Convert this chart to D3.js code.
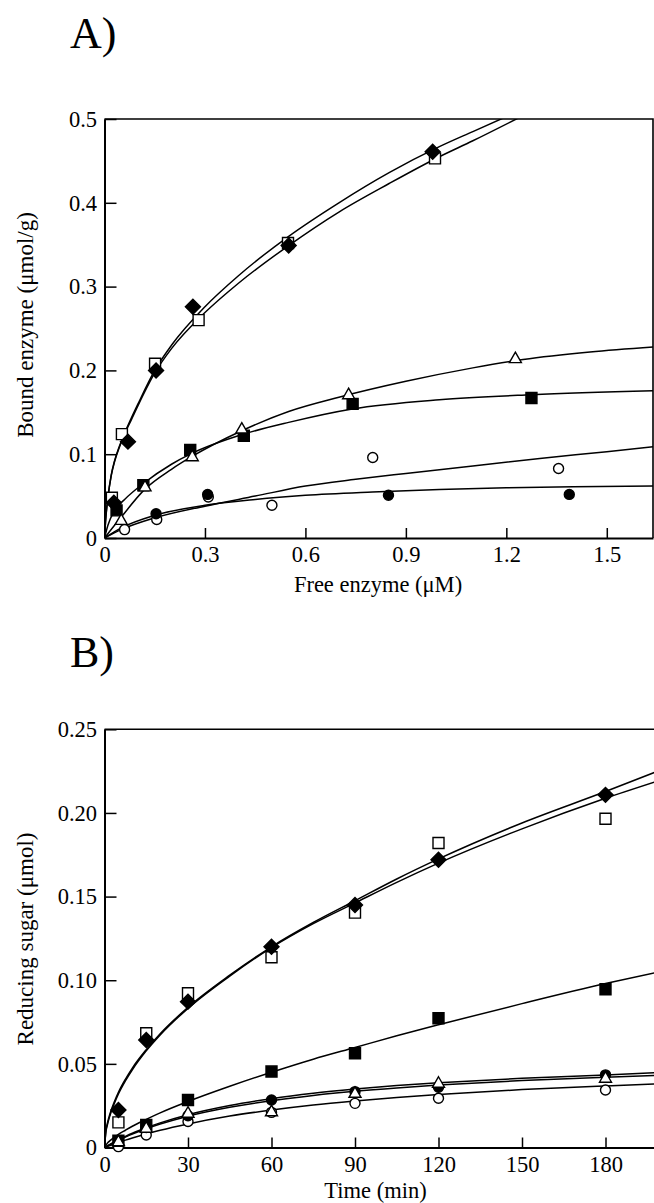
<!DOCTYPE html>
<html>
  <head>
    <meta charset="utf-8">
    <title>Enzyme adsorption and hydrolysis</title>
    <style>
      body { margin: 0; padding: 0; background: #fff; }
      svg { display: block; }
      text { font-family: 'Liberation Serif', 'Times New Roman', serif; fill: #000; }
    </style>
  </head>
  <body>
    <div id="chart"></div>
    <script src="https://cdn.jsdelivr.net/npm/d3@7"></script>
    <script>
      // ---- Panel A: bound vs free enzyme (measured points, [free uM, bound umol/g])
      var aDiamond      = [[0.028, 0.042], [0.07, 0.115], [0.154, 0.2], [0.264, 0.276], [0.55, 0.349], [0.98, 0.461]];
      var aOpenSquare   = [[0.022, 0.048], [0.052, 0.124], [0.151, 0.208], [0.281, 0.26], [0.548, 0.352], [0.987, 0.453]];
      var aTriangle     = [[0.05, 0.021], [0.121, 0.061], [0.262, 0.097], [0.41, 0.13], [0.729, 0.171], [1.227, 0.214]];
      var aFilledSquare = [[0.036, 0.033], [0.116, 0.063], [0.256, 0.105], [0.416, 0.122], [0.741, 0.16], [1.275, 0.167]];
      var aOpenCircle   = [[0.06, 0.01], [0.156, 0.022], [0.31, 0.049], [0.5, 0.039], [0.801, 0.096], [1.356, 0.083]];
      var aFilledCircle = [[0.154, 0.029], [0.308, 0.052], [0.848, 0.051], [1.388, 0.052]];

      // fitted curves
      var aFitDiamond = [[0, 0], [0.004, 0.025], [0.01, 0.048], [0.02, 0.075], [0.03, 0.092], [0.045, 0.11], [0.06, 0.125],
        [0.08, 0.143], [0.1, 0.16], [0.15, 0.2], [0.2, 0.23], [0.3, 0.276], [0.4, 0.313], [0.55, 0.36], [0.7, 0.4],
        [0.85, 0.436], [1.0, 0.467], [1.1, 0.485], [1.19, 0.501]];
      var aFitOpenSquare = [[0, 0], [0.004, 0.024], [0.01, 0.047], [0.02, 0.074], [0.03, 0.091], [0.045, 0.109], [0.06, 0.124],
        [0.08, 0.141], [0.1, 0.158], [0.15, 0.197], [0.2, 0.226], [0.3, 0.269], [0.4, 0.304], [0.55, 0.349], [0.7, 0.389],
        [0.85, 0.423], [1.0, 0.455], [1.1, 0.474], [1.235, 0.501]];
      var aFitTriangle = [[0, 0], [0.05, 0.025], [0.12, 0.058], [0.2, 0.082], [0.26, 0.097], [0.41, 0.128], [0.55, 0.151],
        [0.7, 0.168], [0.9, 0.187], [1.1, 0.203], [1.25, 0.213], [1.45, 0.222], [1.64, 0.228]];
      var aFitFilledSquare = [[0, 0], [0.01, 0.015], [0.03, 0.033], [0.06, 0.046], [0.116, 0.065], [0.2, 0.088], [0.256, 0.1],
        [0.416, 0.124], [0.55, 0.138], [0.74, 0.154], [1.0, 0.165], [1.275, 0.171], [1.64, 0.1758]];
      var aFitOpenCircle = [[0, 0], [0.05, 0.01], [0.15, 0.024], [0.3, 0.038], [0.45, 0.05], [0.6, 0.062], [0.75, 0.07],
        [0.9, 0.077], [1.1, 0.086], [1.3, 0.095], [1.5, 0.103], [1.64, 0.109]];
      var aFitFilledCircle = [[0, 0], [0.05, 0.012], [0.15, 0.027], [0.3, 0.039], [0.45, 0.046], [0.6, 0.051], [0.8, 0.055],
        [1.0, 0.058], [1.2, 0.06], [1.4, 0.0612], [1.64, 0.062]];

      var aXTicks = [0, 0.3, 0.6, 0.9, 1.2, 1.5];
      var aYTicks = [0, 0.1, 0.2, 0.3, 0.4, 0.5];

      // ---- Panel B: reducing sugar vs time
      var bTimes        = [5, 15, 30, 60, 90, 120, 180];
      var bDiamond      = [0.0224, 0.0643, 0.0872, 0.120, 0.145, 0.172, 0.2108];
      var bOpenSquare   = [0.015, 0.0683, 0.0922, 0.1137, 0.1404, 0.182, 0.1965];
      var bFilledSquare = [0.004, 0.0135, 0.0284, 0.0454, 0.0563, 0.0773, 0.0946];
      var bFilledCircle = [0.004, 0.012, 0.019, 0.0284, 0.0334, 0.036, 0.0434];
      var bTriangle     = [0.0035, 0.0115, 0.0205, 0.0214, 0.0324, 0.0384, 0.0414];
      var bOpenCircle   = [0.0005, 0.0075, 0.0155, 0.021, 0.0264, 0.0294, 0.0344];

      var bFitTimes        = [0, 0.5, 1, 2, 3.5, 5, 7.5, 10, 15, 20, 30, 45, 60, 75, 90, 105, 120, 150, 180, 198];
      var bFitDiamond      = [0, 0.0099, 0.0142, 0.0204, 0.0272, 0.033, 0.0408, 0.0475, 0.0585, 0.068, 0.0838, 0.103, 0.12, 0.1345, 0.1475, 0.1605, 0.1725, 0.194, 0.2128, 0.2245];
      var bFitOpenSquare   = [0, 0.0092, 0.0133, 0.0193, 0.0262, 0.032, 0.0398, 0.0465, 0.0578, 0.0673, 0.0832, 0.1025, 0.1195, 0.1338, 0.1462, 0.1585, 0.17, 0.1905, 0.2088, 0.2187];
      var bFitFilledSquare = [0, 0.0015, 0.0025, 0.0041, 0.0061, 0.0078, 0.0103, 0.0127, 0.0168, 0.0207, 0.0275, 0.0366, 0.045, 0.0528, 0.0598, 0.0668, 0.0734, 0.086, 0.098, 0.1045];
      var bFitFilledCircle = [0, 0.0005, 0.001, 0.0019, 0.0033, 0.0046, 0.0066, 0.0085, 0.0118, 0.0147, 0.0196, 0.0251, 0.0292, 0.0324, 0.0349, 0.037, 0.0387, 0.0414, 0.0434, 0.0448];
      var bFitTriangle     = [0, 0.0005, 0.0009, 0.0018, 0.0031, 0.0043, 0.0062, 0.008, 0.0112, 0.014, 0.0187, 0.024, 0.028, 0.0311, 0.0336, 0.0356, 0.0373, 0.04, 0.042, 0.043];
      var bFitOpenCircle   = [0, 0.0003, 0.0006, 0.0012, 0.0021, 0.003, 0.0044, 0.0057, 0.0081, 0.0103, 0.0141, 0.0188, 0.0224, 0.0254, 0.0278, 0.0299, 0.0317, 0.0346, 0.0368, 0.038];

      var bXTicks = [0, 30, 60, 90, 120, 150, 180];
      var bYTicks = [0, 0.05, 0.10, 0.15, 0.20, 0.25];

      var W = 654, H = 1203;
      var svg = d3.select("#chart").append("svg")
        .attr("width", W)
        .attr("height", H);

      // marker shapes
      var shapes = {
        diamond: {d: "M0,-7.5L7.5,0L0,7.5L-7.5,0Z", fill: "#000"},
        openSquare: {d: "M-5.5,-5.5H5.5V5.5H-5.5Z", fill: "#fff"},
        filledSquare: {d: "M-5.5,-5.5H5.5V5.5H-5.5Z", fill: "#000"},
        triangle: {d: "M0,-6.5L6,4L-6,4Z", fill: "#fff"},
        openCircle: {d: d3.symbol(d3.symbolCircle, Math.PI * 25)(), fill: "#fff"},
        filledCircle: {d: d3.symbol(d3.symbolCircle, Math.PI * 25)(), fill: "#000"}
      };

      function panel(opt) {
        var g = svg.append("g");
        var x = d3.scaleLinear().domain(opt.xDomain).range([opt.left, opt.right]),
            y = d3.scaleLinear().domain(opt.yDomain).range([opt.bottom, opt.top]);

        var clipId = "clip-" + opt.name;
        g.append("clipPath").attr("id", clipId)
          .append("rect")
            .attr("x", opt.left).attr("y", opt.top)
            .attr("width", opt.right - opt.left).attr("height", opt.bottom - opt.top);

        // frame (top + right)
        g.append("path")
          .attr("d", "M" + opt.left + "," + opt.top + "H" + opt.right + "V" + opt.bottom)
          .attr("fill", "none")
          .attr("stroke", "#000")
          .attr("stroke-width", 1.6);

        var line = d3.line()
          .x(function (d) { return x(d[0]); })
          .y(function (d) { return y(d[1]); })
          .curve(d3.curveMonotoneX);

        g.append("g")
          .attr("clip-path", "url(#" + clipId + ")")
          .selectAll("path")
          .data(opt.fits)
          .enter().append("path")
            .attr("d", line)
            .attr("fill", "none")
            .attr("stroke", "#000")
            .attr("stroke-width", 1.5);

        // axes, ticks pointing inward
        var xAxis = g.append("g")
          .attr("transform", "translate(0," + opt.bottom + ")")
          .call(d3.axisBottom(x).tickValues(opt.xTicks).tickFormat(opt.xFormat)
            .tickSizeInner(-10).tickSizeOuter(0).tickPadding(8.5));
        var yAxis = g.append("g")
          .attr("transform", "translate(" + opt.left + ",0)")
          .call(d3.axisLeft(y).tickValues(opt.yTicks).tickFormat(opt.yFormat)
            .tickSizeInner(-12).tickSizeOuter(0).tickPadding(7.5));

        [xAxis, yAxis].forEach(function (a) {
          a.attr("font-family", null).attr("font-size", null);
          a.select(".domain").attr("stroke-width", 2);
          a.selectAll(".tick line").attr("stroke-width", 1.5);
          a.selectAll(".tick text").attr("font-size", "22.5px").attr("fill", "#000");
        });

        // markers
        g.append("g").selectAll("g")
          .data(opt.series)
          .enter().append("g")
          .each(function (s) {
            d3.select(this).selectAll("path")
              .data(s.points)
              .enter().append("path")
                .attr("transform", function (d) { return "translate(" + x(d[0]) + "," + y(d[1]) + ")"; })
                .attr("d", shapes[s.shape].d)
                .attr("fill", shapes[s.shape].fill)
                .attr("stroke", "#000")
                .attr("stroke-width", 1.4);
          });

        // labels
        svg.append("text")
          .attr("x", 70).attr("y", opt.tagY)
          .attr("font-size", "44px")
          .text(opt.tag);
        svg.append("text")
          .attr("x", opt.xTitleX).attr("y", opt.xTitleY)
          .attr("text-anchor", "middle")
          .attr("font-size", "22.5px")
          .text(opt.xTitle);
        svg.append("text")
          .attr("transform", "translate(33," + opt.yTitleY + ") rotate(-90)")
          .attr("text-anchor", "middle")
          .attr("font-size", "23px")
          .text(opt.yTitle);
      }

      function zip(xs, ys) { return xs.map(function (v, i) { return [v, ys[i]]; }); }

      panel({
        name: "a", tag: "A)", tagY: 48,
        left: 104.5, right: 653, top: 119, bottom: 538,
        xDomain: [0, 1.638], yDomain: [0, 0.5],
        xTicks: aXTicks, yTicks: aYTicks,
        xFormat: function (d) { return d === 0 ? "0" : d3.format(".1f")(d); },
        yFormat: function (d) { return d === 0 ? "0" : d3.format(".1f")(d); },
        xTitle: "Free enzyme (\u03bcM)", xTitleX: 378, xTitleY: 592,
        yTitle: "Bound enzyme (\u03bcmol/g)", yTitleY: 325,
        fits: [aFitDiamond, aFitOpenSquare, aFitTriangle, aFitFilledSquare, aFitOpenCircle, aFitFilledCircle],
        series: [
          {shape: "openCircle", points: aOpenCircle},
          {shape: "filledCircle", points: aFilledCircle},
          {shape: "filledSquare", points: aFilledSquare},
          {shape: "openSquare", points: aOpenSquare},
          {shape: "diamond", points: aDiamond},
          {shape: "triangle", points: aTriangle}
        ]
      });

      panel({
        name: "b", tag: "B)", tagY: 667,
        left: 104.5, right: 104.5 + 198 * 83.5 / 30, top: 729.3, bottom: 1147.5,
        xDomain: [0, 198], yDomain: [0, 0.25],
        xTicks: bXTicks, yTicks: bYTicks,
        xFormat: function (d) { return String(d); },
        yFormat: function (d) { return d === 0 ? "0" : d3.format(".2f")(d); },
        xTitle: "Time (min)", xTitleX: 375.5, xTitleY: 1197.5,
        yTitle: "Reducing sugar (\u03bcmol)", yTitleY: 939,
        fits: [bFitDiamond, bFitOpenSquare, bFitFilledSquare, bFitFilledCircle, bFitTriangle, bFitOpenCircle]
          .map(function (v) { return zip(bFitTimes, v); }),
        series: [
          {shape: "openCircle", points: zip(bTimes, bOpenCircle)},
          {shape: "filledCircle", points: zip(bTimes, bFilledCircle)},
          {shape: "filledSquare", points: zip(bTimes, bFilledSquare)},
          {shape: "openSquare", points: zip(bTimes, bOpenSquare)},
          {shape: "diamond", points: zip(bTimes, bDiamond)},
          {shape: "triangle", points: zip(bTimes, bTriangle)}
        ]
      });
    </script>
  </body>
</html>
